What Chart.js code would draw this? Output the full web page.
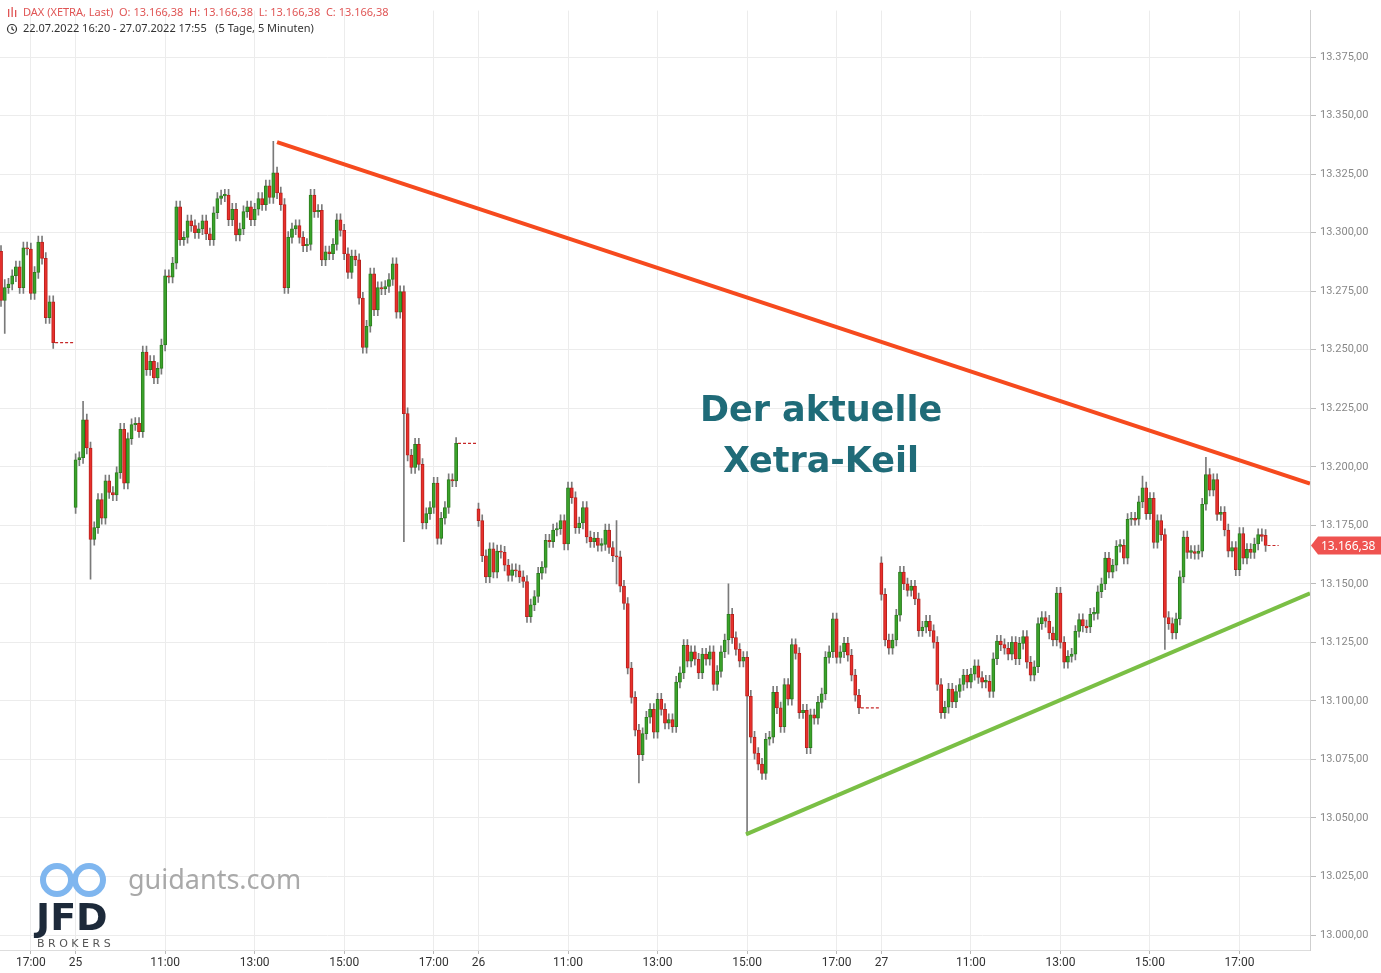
<!DOCTYPE html>
<html>
<head>
<meta charset="utf-8">
<script src="https://cdn.jsdelivr.net/npm/chart.js@4.4.0/dist/chart.umd.min.js"></script>
<style>
  html, body { margin: 0; padding: 0; background: #fff; }
  #wrap { position: relative; width: 1381px; height: 973px; }
</style>
</head>
<body>
<div id="wrap"><canvas id="chart" width="1381" height="973"></canvas></div>
<script>
// 5-minute closes per trading day (first open separately)
const day22Start = 0, day22Open = 13292;
const day22Close = [13271,13276.5,13278,13281.6,13285.4,13276.5,13293.5,13293,13274,13283,13296,13289,13263.7,13270.5,13253];

const day25Start = 20, day25Open = 13182.6;
const day25Close = [13203,13203.9,13220,13208,13169,13174,13186,13178,13194,13189,13188,13197.5,13216,13193,13212,13218,13218.5,13215,13249,13241.5,
  13245,13238,13242,13252,13281.6,13281,13287,13311,13297,13298,13305,13303,13300,13301.6,13305,13299.5,13297,13308.5,13314.6,13315.7,
  13316,13305.5,13310,13299,13301.6,13309,13311,13305.5,13310,13314.6,13312,13320,13315,13325.5,13317,13312,13276.5,13298,13301.6,13303,
  13298,13294.4,13295,13316,13309,13309.5,13288.4,13291.8,13291,13295,13305.5,13301,13291,13283,13290,13288.4,13272,13251,13260,13282.4,
  13267,13276.5,13276,13277,13280,13286.7,13266,13274.8,13222.7,13205,13199.7,13209.6,13201,13176,13180,13182.6,13193,13169.4,13178,13182.6,
  13194.5,13194,13210];

const day26Start = 128, day26Open = 13182;
const day26Close = [13177,13162,13153,13165,13155,13164,13163.5,13158,13153.6,13156,13155.5,13153,13151,13136,13141,13144.6,13154.5,13157,13168.6,13168,
  13173,13173.6,13177,13167,13191,13186.8,13174,13176,13182.6,13170,13168,13169.5,13166.4,13166.8,13173,13165.5,13162,13161.5,13149,13141.6,
  13114,13101.5,13087.5,13077,13086,13093,13096.4,13086.6,13100.7,13096.4,13090.5,13092,13089,13108,13112,13123.7,13117,13121,13117.8,13112,
  13120,13117.8,13121,13107,13112.6,13121,13126,13137,13127,13122,13117,13118.6,13102,13084.5,13077.6,13073,13069,13083.6,13084.5,13103.7,
  13097,13089,13107,13100.7,13124,13120.3,13095,13096,13080,13094,13092.6,13099.4,13103,13118.6,13121,13135,13118.6,13121,13124.6,13119.5,
  13111,13102.4,13097];

const day27Start = 236, day27Open = 13159;
const day27Close = [13145.5,13126,13122.5,13126,13136.6,13155,13150,13147.2,13149,13143.6,13130,13131.5,13134,13130,13125,13107,13095,13097.3,13105,13099.6,
  13104,13107,13111,13108,13111.4,13115,13110,13108,13108.4,13104,13118,13125.5,13124,13122.5,13120,13125,13118,13124.6,13127.5,13116.5,
  13111,13114.6,13133,13135.6,13134,13129,13126,13146,13125,13116.5,13119,13120,13129.7,13134.7,13132,13131.6,13137,13137.4,13146.6,13150,
  13161,13155,13158,13166,13166.4,13161,13177.5,13178,13177.6,13185,13191,13180,13186.5,13167.7,13177,13171,13135.6,13133,13129,13135,
  13153,13170,13163.4,13163.8,13163,13164,13184,13196.7,13190,13194.5,13179.6,13180.5,13173,13164,13165.5,13156,13171.5,13161,13164.7,13163.4,
  13167,13171,13170.7,13166.38];

// after-hours flat segments [fromSlot, toSlot]
const flatRanges = [[14, 19], [122, 127], [230, 235], [339, 342]];
// wick extremes that stand out [slot, low, high]
const spikes = [[1, 13257, 13280], [24, 13152, 13210], [22, 13214, 13228], [73, 13315, 13339], [108, 13168, 13234],
  [171, 13065, 13080], [200, 13043, 13120], [165, 13150, 13177], [195, 13120, 13150], [312, 13122, 13172], [323, 13188, 13204], [306, 13186, 13196]];
const defaultWick = 2.5;

// tick labels
const xTickSlots = [8, 20, 44, 68, 92, 116, 128, 152, 176, 200, 224, 236, 260, 284, 308, 332];
const xTickLabels = ['17:00', '25', '11:00', '13:00', '15:00', '17:00', '26', '11:00', '13:00', '15:00', '17:00', '27', '11:00', '13:00', '15:00', '17:00'];
const yTicks = [13000, 13025, 13050, 13075, 13100, 13125, 13150, 13175, 13200, 13225, 13250, 13275, 13300, 13325, 13350, 13375];

// trend lines [slot, price]
const resistance = [[74, 13338.7], [350.9, 13192.8]];
const support = [[199.7, 13043], [350.9, 13145.9]];
const lastPrice = 13166.38;

const bodies = [], wicks = [], bodyColors = [], borderColors = [];
function addDay(start, open, closes) {
  let o = open;
  closes.forEach((c, i) => {
    const s = start + i;
    let lo = Math.min(o, c) - defaultWick, hi = Math.max(o, c) + defaultWick;
    const sp = spikes.find(p => p[0] === s);
    if (sp) { lo = Math.min(lo, sp[1]); hi = Math.max(hi, sp[2]); }
    const up = c >= o;
    bodies.push({ x: s, y: [o, Math.abs(c - o) < 0.4 ? c + (up ? 0.4 : -0.4) : c] });
    wicks.push({ x: s, y: [lo, hi] });
    bodyColors.push(up ? '#3aa32a' : '#e8302c');
    borderColors.push(up ? '#2b7d1e' : '#b8211d');
    o = c;
  });
}
addDay(day22Start, day22Open, day22Close);
addDay(day25Start, day25Open, day25Close);
addDay(day26Start, day26Open, day26Close);
addDay(day27Start, day27Open, day27Close);

const closeAt = {};
bodies.forEach(b => closeAt[b.x] = b.y[1]);
const flatData = [];
flatRanges.forEach(r => {
  flatData.push({ x: r[0] + 0.5, y: closeAt[r[0]] }, { x: r[1] + 0.5, y: closeAt[r[0]] }, { x: r[1] + 0.6, y: null });
});

const fmt = v => v.toLocaleString('de-DE', { minimumFractionDigits: 2, maximumFractionDigits: 2 });

const overlay = {
  id: 'overlay',
  afterDraw(chart) {
    const { ctx, scales: { y } } = chart;
    ctx.save();
    // header
    ctx.font = '11px "Noto Sans", sans-serif';
    ctx.textBaseline = 'middle';
    ctx.fillStyle = '#e05555';
    ctx.fillText('DAX (XETRA, Last)  O: 13.166,38  H: 13.166,38  L: 13.166,38  C: 13.166,38', 23, 13);
    ctx.fillRect(8, 9, 1.3, 8); ctx.fillRect(11.5, 7, 1.3, 10); ctx.fillRect(15, 10, 1.3, 7);
    ctx.fillStyle = '#333';
    ctx.fillText('22.07.2022 16:20 - 27.07.2022 17:55   (5 Tage, 5 Minuten)', 23, 29);
    ctx.strokeStyle = '#333'; ctx.lineWidth = 1.2;
    ctx.beginPath(); ctx.arc(12, 29, 4.5, 0, Math.PI * 2); ctx.stroke();
    ctx.beginPath(); ctx.moveTo(12, 26.5); ctx.lineTo(12, 29); ctx.lineTo(14, 30.5); ctx.stroke();
    // headline
    ctx.font = 'bold 35px "DejaVu Sans", sans-serif';
    ctx.textAlign = 'center';
    ctx.fillStyle = '#1f6b78';
    ctx.fillText('Der aktuelle', 821, 412);
    ctx.fillText('Xetra-Keil', 821, 463);
    // watermark
    ctx.textAlign = 'left';
    ctx.font = '27px "Noto Sans", sans-serif';
    ctx.fillStyle = '#a9a9a9';
    ctx.fillText('guidants.com', 128, 881);
    ctx.strokeStyle = '#7fb6ef'; ctx.lineWidth = 6;
    ctx.beginPath(); ctx.arc(57, 880, 14, 0, Math.PI * 2); ctx.stroke();
    ctx.beginPath(); ctx.arc(89, 880, 14, 0, Math.PI * 2); ctx.stroke();
    ctx.font = 'bold 38px "DejaVu Sans", sans-serif';
    ctx.fillStyle = '#1d2a3a';
    ctx.fillText('JFD', 36, 920);
    ctx.font = '11px "DejaVu Sans", sans-serif';
    ctx.fillStyle = '#555';
    ctx.fillText('B R O K E R S', 37, 944);
    // last price tag
    const py = y.getPixelForValue(lastPrice);
    ctx.fillStyle = '#ef5350';
    ctx.beginPath();
    ctx.moveTo(1311, py); ctx.lineTo(1318, py - 9); ctx.lineTo(1381, py - 9); ctx.lineTo(1381, py + 9); ctx.lineTo(1318, py + 9);
    ctx.closePath(); ctx.fill();
    ctx.fillStyle = '#fff';
    ctx.font = '12px "Noto Sans", sans-serif';
    ctx.fillText(fmt(lastPrice), 1321, py + 1);
    ctx.restore();
  }
};

new Chart(document.getElementById('chart'), {
  type: 'bar',
  data: {
    datasets: [
      { type: 'line', data: resistance.map(p => ({ x: p[0], y: p[1] })), borderColor: '#f64a1e', borderWidth: 4, pointRadius: 0, order: 0 },
      { type: 'line', data: support.map(p => ({ x: p[0], y: p[1] })), borderColor: '#7abf45', borderWidth: 4, pointRadius: 0, order: 0 },
      { type: 'line', data: flatData, borderColor: '#c62828', borderWidth: 1.2, borderDash: [3, 2], pointRadius: 0, spanGaps: false, order: 1 },
      { data: bodies, backgroundColor: bodyColors, borderColor: borderColors, borderWidth: 1, borderSkipped: false, barThickness: 3.2, grouped: false, order: 2 },
      { data: wicks, backgroundColor: '#7a7a7a', barThickness: 1, grouped: false, order: 3 }
    ]
  },
  options: {
    responsive: false,
    animation: false,
    layout: { padding: 0 },
    plugins: { legend: { display: false }, tooltip: { enabled: false } },
    scales: {
      x: {
        type: 'linear', min: -0.27, max: 350.9, offset: false,
        afterBuildTicks: s => { s.ticks = xTickSlots.map(v => ({ value: v })); },
        afterFit: s => { s.height = 23; },
        grid: { color: '#ececec', offset: false, drawTicks: true, tickLength: 4, tickColor: '#bbb' },
        border: { color: '#ddd' },
        ticks: {
          autoSkip: false, maxRotation: 0, color: '#333', font: { size: 12, family: 'Roboto' }, padding: 2,
          callback: (v) => xTickLabels[xTickSlots.indexOf(v)]
        }
      },
      y: {
        position: 'right', min: 12993.6, max: 13394.84,
        afterBuildTicks: s => { s.ticks = yTicks.map(v => ({ value: v })); },
        afterFit: s => { s.width = 71; },
        grid: { color: '#ececec', drawTicks: true, tickLength: 6, tickColor: '#bbb' },
        border: { color: '#cfcfcf' },
        ticks: { color: '#888', font: { size: 11, family: 'Roboto' }, padding: 4, callback: v => fmt(v) }
      }
    }
  },
  plugins: [overlay]
});
</script>
</body>
</html>
